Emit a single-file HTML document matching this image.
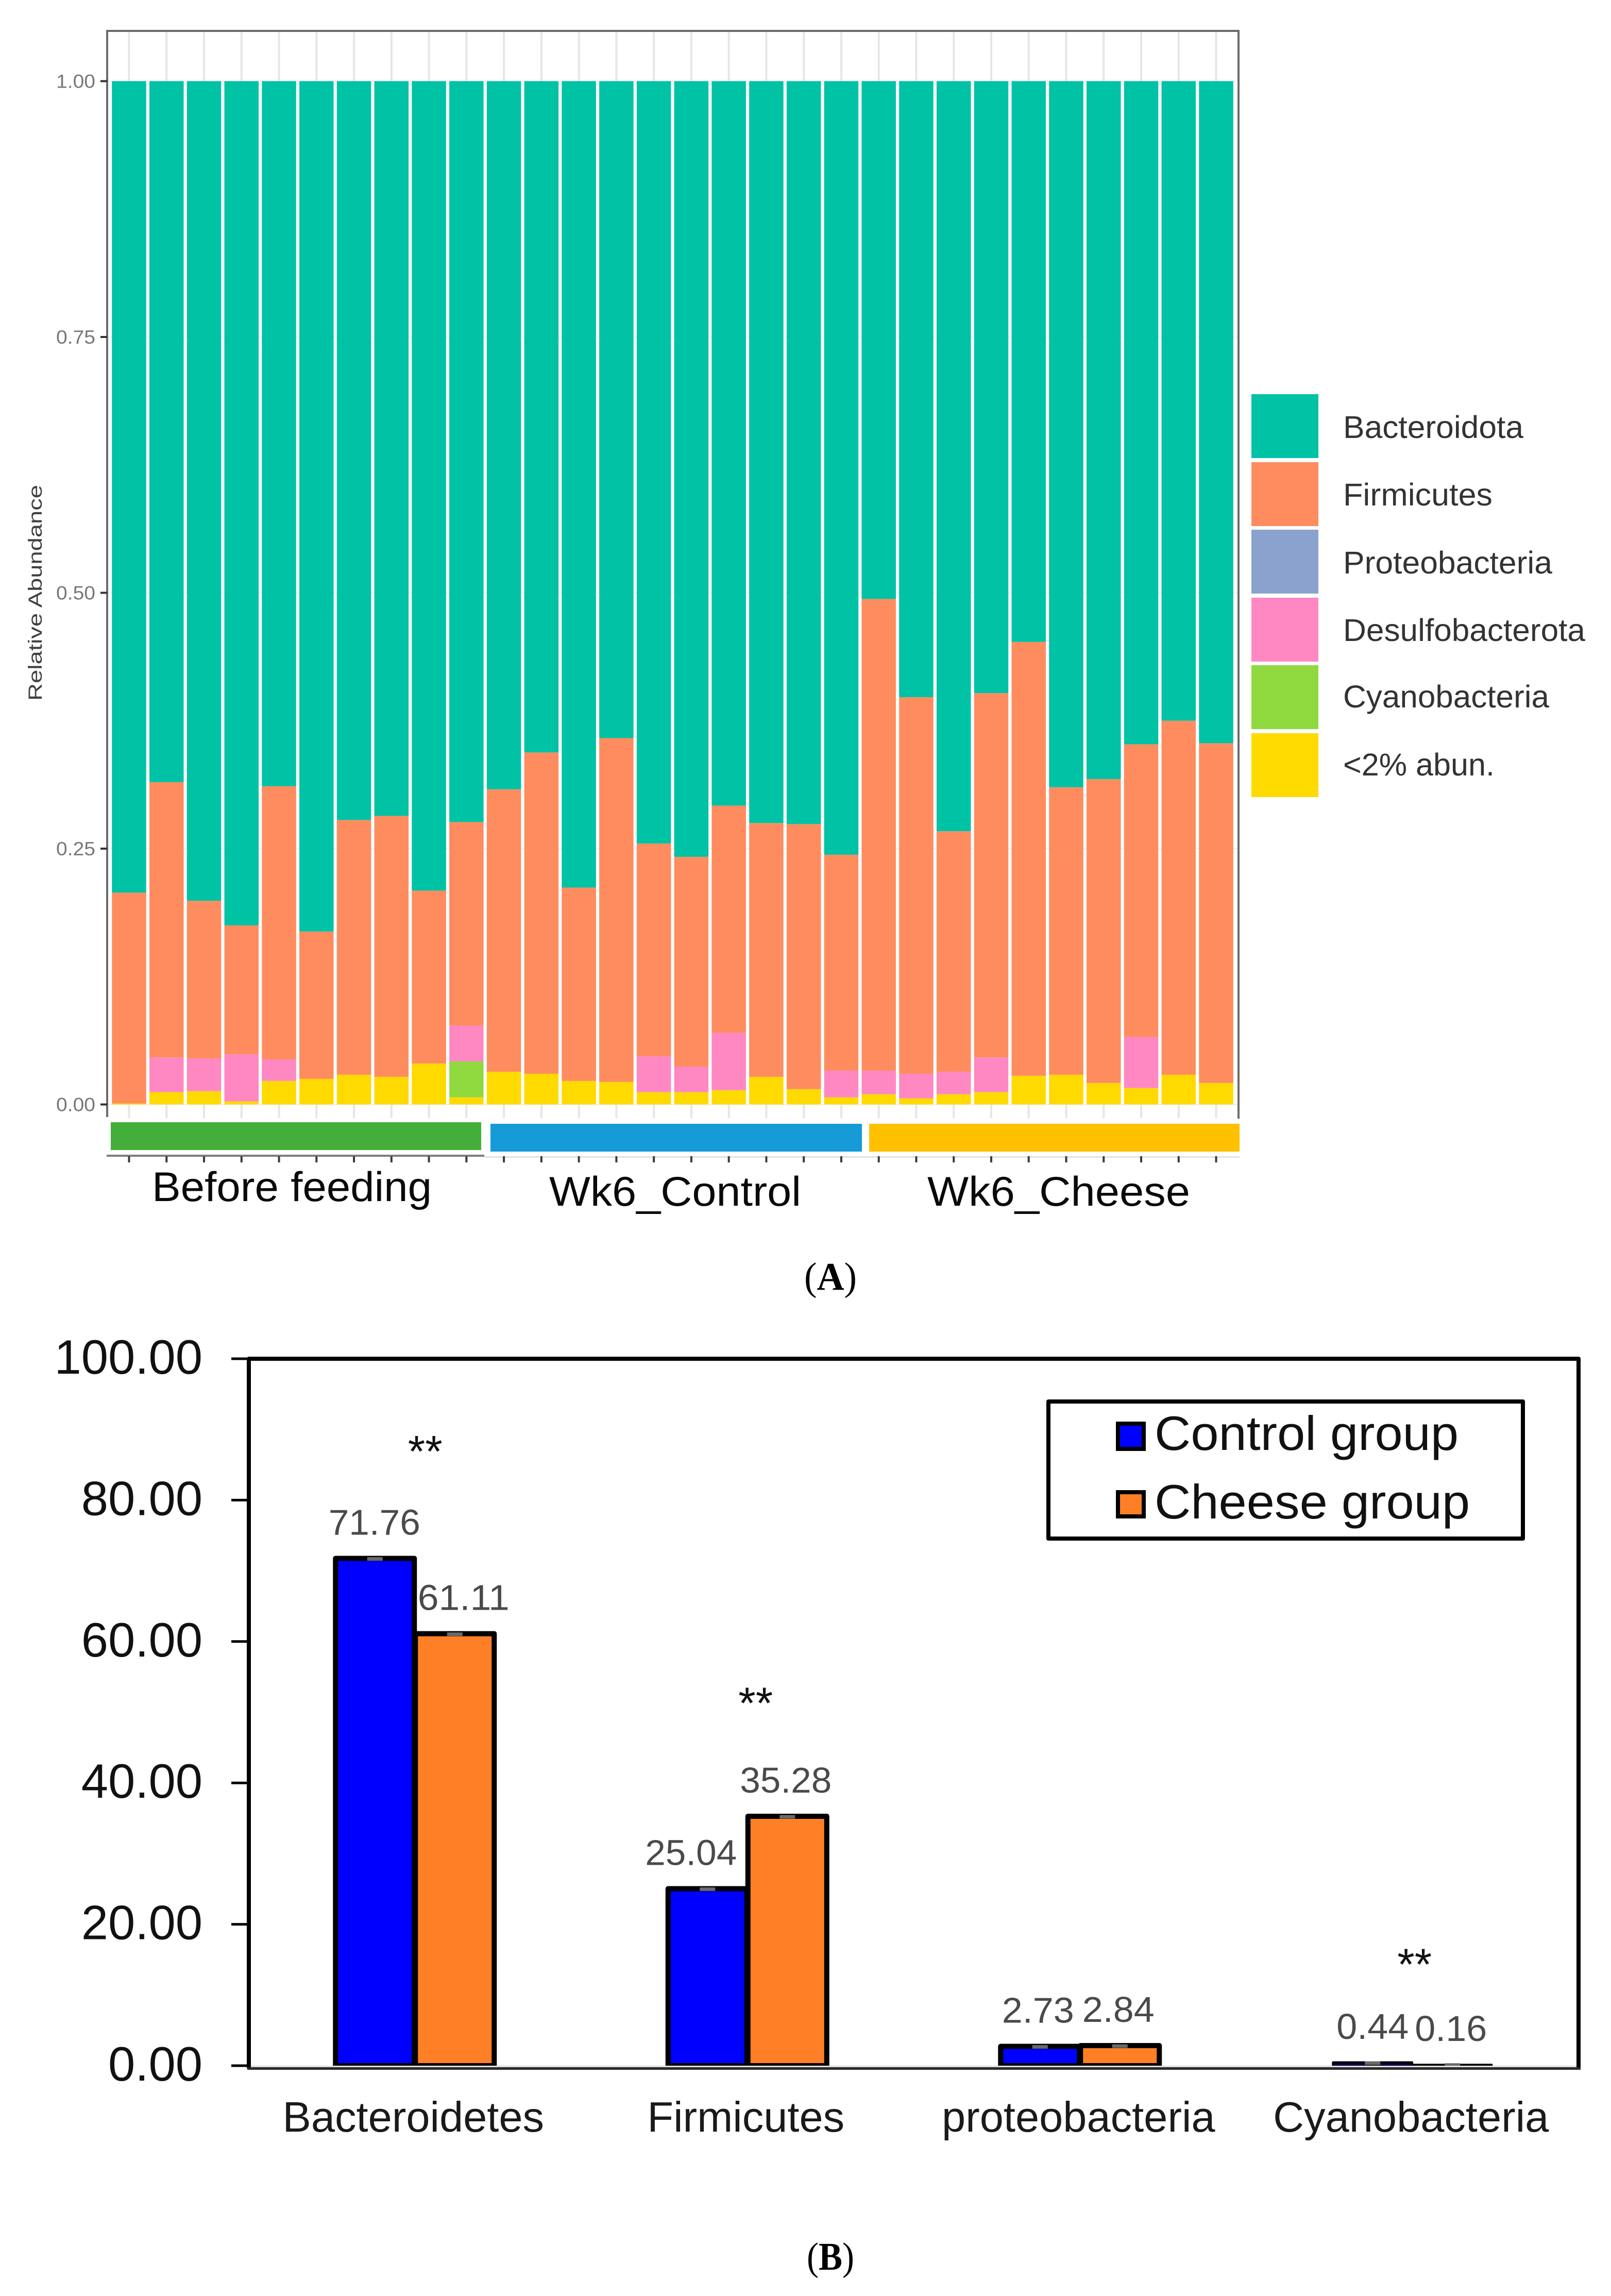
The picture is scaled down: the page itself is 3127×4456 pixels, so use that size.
<!DOCTYPE html>
<html lang="en">
<head>
<meta charset="utf-8">
<title>Relative abundance of gut bacteria</title>
<style>
html,body{margin:0;padding:0;background:#fff;width:3127px;height:4456px;overflow:hidden}
svg{display:block}
text{font-family:"Liberation Sans",Arial,sans-serif}
.serif{font-family:"Liberation Serif","Times New Roman",serif}
</style>
</head>
<body>
<svg id="figure" xmlns="http://www.w3.org/2000/svg" width="3127" height="4456" viewBox="0 0 3127 4456">
  <rect x="0" y="0" width="3127" height="4456" fill="#ffffff"/>

  <g id="panelA">
    <g id="gridA"></g>
    <g id="barsA"></g>
    <path d="M208 2168V60H2404V2171" fill="none" stroke="#6b6b6b" stroke-width="4"/>
    <g id="yAxisA"></g>
    <text transform="translate(81,1360) rotate(-90)" font-size="37" fill="#404040" textLength="419" lengthAdjust="spacingAndGlyphs">Relative Abundance</text>

    <rect x="215" y="2178" width="719" height="54" fill="#43ae3a"/>
    <rect x="952" y="2181" width="721" height="54" fill="#169bd8"/>
    <rect x="1687" y="2181" width="719" height="54" fill="#ffc000"/>
    <rect x="207" y="2241" width="733" height="4" fill="#7d7d7d"/>
    <rect x="940" y="2244" width="1466" height="3" fill="#e2e2e2"/>
    <g id="xTicksA"></g>

    <text x="295" y="2331" font-size="81" fill="#0a0a0a" textLength="543" lengthAdjust="spacingAndGlyphs">Before feeding</text>
    <text x="1066" y="2340" font-size="81" fill="#0a0a0a" textLength="489" lengthAdjust="spacingAndGlyphs">Wk6_Control</text>
    <text x="1800" y="2340" font-size="81" fill="#0a0a0a" textLength="510" lengthAdjust="spacingAndGlyphs">Wk6_Cheese</text>

    <g>
      <rect x="2429" y="765" width="130" height="124" fill="#00c2a5"/>
      <rect x="2429" y="897" width="130" height="124" fill="#ff8c5f"/>
      <rect x="2429" y="1028" width="130" height="124" fill="#8aa2cd"/>
      <rect x="2429" y="1160" width="130" height="124" fill="#ff88c2"/>
      <rect x="2429" y="1291" width="130" height="124" fill="#8fd93f"/>
      <rect x="2429" y="1423" width="130" height="124" fill="#ffda00"/>
      <text x="2607" y="850" font-size="61" fill="#333" textLength="350" lengthAdjust="spacingAndGlyphs">Bacteroidota</text>
      <text x="2607" y="981" font-size="61" fill="#333" textLength="290" lengthAdjust="spacingAndGlyphs">Firmicutes</text>
      <text x="2607" y="1113" font-size="61" fill="#333" textLength="406" lengthAdjust="spacingAndGlyphs">Proteobacteria</text>
      <text x="2607" y="1244" font-size="61" fill="#333" textLength="470" lengthAdjust="spacingAndGlyphs">Desulfobacterota</text>
      <text x="2607" y="1373" font-size="61" fill="#333" textLength="400" lengthAdjust="spacingAndGlyphs">Cyanobacteria</text>
      <text x="2607" y="1505" font-size="61" fill="#333" textLength="294" lengthAdjust="spacingAndGlyphs">&lt;2% abun.</text>
    </g>
    <text class="serif" x="1561" y="2503" font-size="76" fill="#000" textLength="102" lengthAdjust="spacingAndGlyphs">(<tspan font-weight="bold">A</tspan>)</text>
  </g>

  <g id="panelB">
    <g id="barsB"></g>
    <rect x="482" y="4009" width="2582" height="3" fill="#dddddd"/>
    <path d="M483 4014V2637H3064V4014" fill="none" stroke="#000" stroke-width="8" stroke-linejoin="round"/>
    <rect x="480" y="4012" width="2588" height="5" fill="#2a2a2a"/>
    <g id="yAxisB"></g>
    <g id="labelsB"></g>
    <g id="catsB"></g>
    <g id="starsB"></g>

    <g>
      <rect x="2035" y="2720" width="921" height="266" fill="#fff" stroke="#000" stroke-width="8" stroke-linejoin="round"/>
      <rect x="2170" y="2763" width="50" height="49" fill="#0000ff" stroke="#000" stroke-width="8"/>
      <rect x="2170" y="2896" width="50" height="47" fill="#ff7f27" stroke="#000" stroke-width="8"/>
      <text x="2241" y="2814" font-size="94" fill="#111" textLength="590" lengthAdjust="spacingAndGlyphs">Control group</text>
      <text x="2241" y="2947" font-size="94" fill="#111" textLength="612" lengthAdjust="spacingAndGlyphs">Cheese group</text>
    </g>
    <text class="serif" x="1566" y="4405" font-size="76" fill="#000" textLength="92" lengthAdjust="spacingAndGlyphs">(<tspan font-weight="bold">B</tspan>)</text>
  </g>
</svg>

<script>
// ---------- Panel A data: relative abundance per sample ----------
const abundTicks = [0, 0.25, 0.5, 0.75, 1];
const abundTickLabels = ['0.00', '0.25', '0.50', '0.75', '1.00'];
const lowAbundance = [0.001,0.012,0.013,0.003,0.023,0.025,0.029,0.027,0.040,0.007,0.032,0.030,0.023,0.022,0.012,0.012,0.014,0.027,0.015,0.007,0.010,0.006,0.010,0.012,0.028,0.029,0.021,0.016,0.029,0.021];
const cyanobacteria = [0,0,0,0,0,0,0,0,0,0.035,0,0,0,0,0,0,0,0,0,0,0,0,0,0,0,0,0,0,0,0];
const desulfobacterota = [0,0.034,0.032,0.046,0.021,0,0,0,0,0.035,0,0,0,0,0.035,0.025,0.056,0,0,0.026,0.023,0.024,0.022,0.034,0,0,0,0.050,0,0];
const proteobacteria = [0,0,0,0,0,0,0,0,0,0,0,0,0,0,0,0,0,0,0,0,0,0,0,0,0,0,0,0,0,0];
const firmicutes = [0.206,0.269,0.154,0.126,0.267,0.144,0.249,0.255,0.169,0.199,0.276,0.314,0.189,0.336,0.208,0.205,0.222,0.248,0.259,0.211,0.461,0.368,0.235,0.356,0.424,0.281,0.297,0.286,0.346,0.332];
const bacteroidota = [0.793,0.685,0.801,0.825,0.689,0.831,0.722,0.718,0.791,0.724,0.692,0.656,0.788,0.642,0.745,0.758,0.708,0.725,0.726,0.756,0.506,0.602,0.733,0.598,0.548,0.690,0.682,0.648,0.625,0.647];

// ---------- Panel B data: mean relative abundance (%) ----------
const phylumCategories = ['Bacteroidetes', 'Firmicutes', 'proteobacteria', 'Cyanobacteria'];
const controlValues = [71.76, 25.04, 2.73, 0.44];
const cheeseValues = [61.11, 35.28, 2.84, 0.16];
const percentTicks = [0, 20, 40, 60, 80, 100];
const percentTickLabels = ['0.00', '20.00', '40.00', '60.00', '80.00', '100.00'];
const significantMarks = ['**', '**', '', '**'];

const SVGNS = 'http://www.w3.org/2000/svg';
function make(parent, tag, attrs, content) {
  const el = document.createElementNS(SVGNS, tag);
  for (const k in attrs) el.setAttribute(k, attrs[k]);
  if (content !== undefined) el.textContent = content;
  parent.appendChild(el);
  return el;
}

// Panel A scales
const xA = i => 250.5 + 72.76 * i;
const yA = v => 2143.5 - 1986 * v;
const barWidthA = 66.5;

const gridA = document.getElementById('gridA');
const barsA = document.getElementById('barsA');
const yAxisA = document.getElementById('yAxisA');
const xTicksA = document.getElementById('xTicksA');

abundTicks.forEach((t, i) => {
  const grid = make(gridA, 'line', {x1: 210, x2: 2403, y1: yA(t), y2: yA(t), stroke: '#eeeeee', 'stroke-width': 2});
  
  
  const tick = make(yAxisA, 'line', {x1: 195, x2: 208, y1: yA(t), y2: yA(t), stroke: '#333333', 'stroke-width': 4});
  
  
  const label = make(yAxisA, 'text', {x: 109, y: yA(t) + 13, 'font-size': 37, fill: '#777777', textLength: 76, lengthAdjust: 'spacingAndGlyphs'}, abundTickLabels[i]);
  
  
});

const stackSeries = [lowAbundance, cyanobacteria, desulfobacterota, proteobacteria, firmicutes, bacteroidota];
const stackColors = ['#ffda00', '#8fd93f', '#ff88c2', '#8aa2cd', '#ff8c5f', '#00c2a5'];
const stackNames = ['low-abundance', 'cyanobacteria', 'desulfobacterota', 'proteobacteria', 'firmicutes', 'bacteroidota'];

lowAbundance.forEach((_, i) => {
  const cx = xA(i);
  const grid = make(gridA, 'line', {x1: cx, x2: cx, y1: 62, y2: 2170, stroke: '#e6e6e6', 'stroke-width': 4});
  
  
  const tick = make(xTicksA, 'line', {x1: cx, x2: cx, y1: 2244, y2: 2256, stroke: '#3a3a3a', 'stroke-width': 4});
  
  
  let cum = 0;
  stackSeries.forEach((series, s) => {
    const v = series[i];
    if (v > 0) {
      const seg = make(barsA, 'rect', {x: cx - barWidthA / 2, y: yA(cum + v), width: barWidthA, height: yA(cum) - yA(cum + v), fill: stackColors[s]});
      
      
    }
    cum += v;
  });
});

// Panel B scales
const groupX = i => 482.5 + 645.5 * (i + 0.5);
const yB = v => 4009 - 13.72 * v;
const barWidthB = 153;
const barsB = document.getElementById('barsB');
const yAxisB = document.getElementById('yAxisB');
const labelsB = document.getElementById('labelsB');
const catsB = document.getElementById('catsB');
const starsB = document.getElementById('starsB');

percentTicks.forEach((t, i) => {
  const tick = make(yAxisB, 'line', {x1: 449, x2: 483, y1: yB(t), y2: yB(t), stroke: '#000', 'stroke-width': 5});
  
  
  const label = make(yAxisB, 'text', {x: 393, y: yB(t) + 29, 'font-size': 94, fill: '#111', 'text-anchor': 'end'}, percentTickLabels[i]);
  
  
});

const seriesB = [controlValues, cheeseValues];
const colorsB = ['#0000ff', '#ff7f27'];
const namesB = ['control', 'cheese'];
const labelNudge = [[-1, -32, -4, 0], [17, -3, -3, -3]];
const starOffset = [0, -4, 0, -16];
const starHeadroom = [178, 190, 0, 161];

phylumCategories.forEach((cat, g) => {
  const c = groupX(g);
  seriesB.forEach((series, s) => {
    const v = series[g];
    const cx = c + (s === 0 ? -barWidthB / 2 - 1 : barWidthB / 2 + 1);
    const h = yB(0) - yB(v);
    const sw = Math.min(10, Math.max(3, h * 0.8));
    const bar = make(barsB, 'rect', {x: cx - barWidthB / 2, y: yB(v), width: barWidthB, height: h, fill: colorsB[s], stroke: '#000', 'stroke-width': sw, 'stroke-linejoin': 'round'});
    
    
    const err = make(barsB, 'line', {x1: cx - 15, x2: cx + 15, y1: yB(v) + 1, y2: yB(v) + 1, stroke: '#6a6a6a', 'stroke-width': 7});
    
    
    const t = make(labelsB, 'text', {x: cx + labelNudge[s][g], y: yB(v) - 46, 'font-size': 70, fill: '#4a4a4a', 'text-anchor': 'middle', textLength: v < 10 ? 140 : 178, lengthAdjust: 'spacingAndGlyphs'}, v.toFixed(2));
    
    
  });
  const lab = make(catsB, 'text', {x: c - 3, y: 4137, 'font-size': 83, fill: '#1a1a1a', 'text-anchor': 'middle'}, cat);
  
  
  if (significantMarks[g]) {
    const topValue = Math.max(controlValues[g], cheeseValues[g]);
    const star = make(starsB, 'text', {x: c + 20 + starOffset[g], y: yB(topValue) - starHeadroom[g], 'font-size': 86, fill: '#111', 'text-anchor': 'middle'}, significantMarks[g]);
    
    
  }
});
</script>
</body>
</html>
